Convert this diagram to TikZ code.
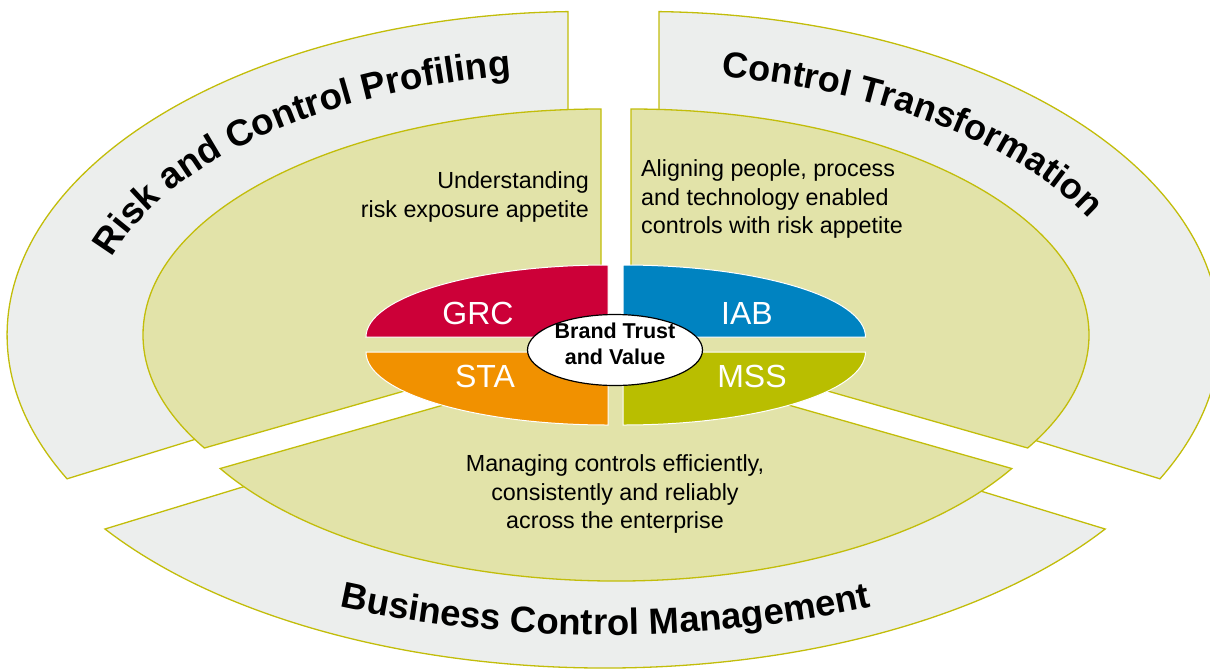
\documentclass[tikz,border=0pt]{standalone}
\usepackage{fontspec}
\setmainfont{Liberation Sans}
\usetikzlibrary{decorations.text}
\definecolor{greyfill}{HTML}{ECEEED}
\definecolor{olivefill}{HTML}{E2E3A9}
\definecolor{oliveline}{HTML}{C2BD0A}
\definecolor{grccol}{HTML}{CC0038}
\definecolor{iabcol}{HTML}{0083C1}
\definecolor{stacol}{HTML}{F19100}
\definecolor{msscol}{HTML}{B9BE00}
\begin{document}
\begin{tikzpicture}[x=1pt,y=1pt,
  greypiece/.style={fill=greyfill, draw=oliveline, line width=1.3pt, line join=miter},
  olivepiece/.style={fill=olivefill, draw=oliveline, line width=1.3pt, line join=miter},
  colpiece/.style={draw=white, line width=1pt},
  desc/.style={font=\fontsize{23.3}{28.5}\selectfont, inner sep=0pt, text=black},
  lab/.style={font=\fontsize{32}{32}\selectfont, text=white, inner sep=0pt},
  brandtext/.style={font=\fontsize{21.5}{26}\selectfont\bfseries, inner sep=0pt, align=center}
]
\useasboundingbox (0,-670) rectangle (1210,0);
\clip (0,-670) rectangle (1210,0);

% outer grey pieces
\path[greypiece] (568,-324.5) -- (568,-11.6)
  arc[start angle=91.4, end angle=206.4, x radius=575pt, y radius=323.5pt] -- cycle;
\path[greypiece] (659,-324.5) -- (659,-11.6)
  arc[start angle=88.6, end angle=-26.4, x radius=575pt, y radius=323.5pt] -- cycle;
\path[greypiece] (605,-376.5) -- (105,-529)
  arc[start angle=214.25, end angle=325.75, x radius=605pt, y radius=318pt] -- cycle;

% middle olive pieces
\path[olivepiece] (601,-335) -- (601,-109)
  arc[start angle=90, end angle=210, x radius=458pt, y radius=226pt] -- cycle;
\path[olivepiece] (631,-335) -- (631,-109)
  arc[start angle=90, end angle=-30, x radius=458pt, y radius=226pt] -- cycle;
\path[olivepiece] (616,-356) -- (220.2,-468.5)
  arc[start angle=210, end angle=330, x radius=457pt, y radius=225pt] -- cycle;

% central coloured quarters
\path[colpiece, fill=grccol] (608,-337) -- (366,-337)
  arc[start angle=180, end angle=90, x radius=242pt, y radius=72pt] -- cycle;
\path[colpiece, fill=iabcol] (623,-337) -- (623,-265)
  arc[start angle=90, end angle=0, x radius=242.5pt, y radius=72pt] -- cycle;
\path[colpiece, fill=stacol] (608,-352) -- (366,-352)
  arc[start angle=180, end angle=270, x radius=242pt, y radius=73pt] -- cycle;
\path[colpiece, fill=msscol] (623,-352) -- (865.5,-352)
  arc[start angle=0, end angle=-90, x radius=242.5pt, y radius=73pt] -- cycle;

% white centre
\draw[fill=white, line width=1.2pt] (615,-350) ellipse [x radius=87.5pt, y radius=35.5pt];
\node[brandtext] (brand) at (615,-344) {Brand Trust\\and Value};

% quarter labels
\node[lab] (grc) at (478,-313) {GRC};
\node[lab] (iab) at (747,-313) {IAB};
\node[lab] (sta) at (485,-376) {STA};
\node[lab] (mss) at (752,-376) {MSS};

% descriptions
\node[desc, align=right, anchor=east] (under) at (589,-197) {Understanding\\risk exposure appetite};
\node[desc, align=left, anchor=west] (aligning) at (641,-199) {Aligning people, process\\and technology enabled\\controls with risk appetite};
\node[desc, align=center] (managing) at (615,-494) {Managing controls efficiently,\\consistently and reliably\\across the enterprise};

% curved titles
\path[decorate, decoration={text along path, text align=center,
  text={|\fontsize{36.8}{36.8}\selectfont\bfseries|Risk and Control Profiling}}]
  (591.5,-333) ++(173.5:501pt and 261pt)
  arc[start angle=173.5, end angle=93.5, x radius=501pt, y radius=261pt];
\path[decorate, decoration={text along path, text align=center,
  text={|\fontsize{36}{36}\selectfont\bfseries|Control Transformation}}]
  (638,-335) ++(90:503pt and 262pt)
  arc[start angle=90, end angle=10, x radius=503pt, y radius=262pt];
\path[decorate, decoration={text along path, text align=center,
  text={|\fontsize{36.5}{36.5}\selectfont\bfseries|Business Control Management}}]
  (605,-250) ++(240:708pt and 385pt)
  arc[start angle=240, end angle=300, x radius=708pt, y radius=385pt];
\end{tikzpicture}
\end{document}
